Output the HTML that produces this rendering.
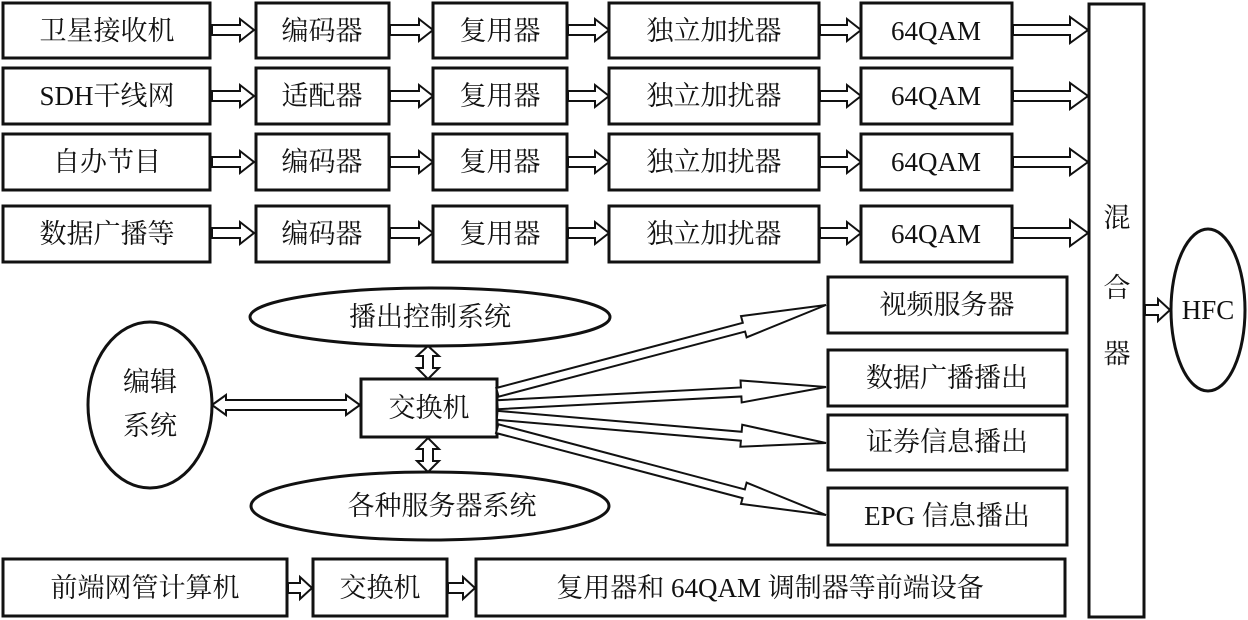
<!DOCTYPE html>
<html><head><meta charset="utf-8"><style>
html,body{margin:0;padding:0;background:#fff;}
svg{display:block;}
text{font-family:"Liberation Serif","Noto Serif CJK SC",serif;fill:#111;}
</style></head><body>
<svg width="1248" height="620" viewBox="0 0 1248 620" xmlns="http://www.w3.org/2000/svg">
<defs>
<polygon id="ha" points="0,-5 -14,-5 -14,-11 0,0 -14,11 -14,5 0,5" />
</defs>
<g fill="#fff" stroke="#111" stroke-width="3">
<!-- rows -->
<rect x="3" y="3" width="207" height="55"/><rect x="256" y="3" width="133" height="55"/><rect x="433" y="3" width="134" height="55"/><rect x="609" y="3" width="210" height="55"/><rect x="861" y="3" width="151" height="55"/>
<rect x="3" y="68" width="207" height="56"/><rect x="256" y="68" width="133" height="56"/><rect x="433" y="68" width="134" height="56"/><rect x="609" y="68" width="210" height="56"/><rect x="861" y="68" width="151" height="56"/>
<rect x="3" y="134" width="207" height="56"/><rect x="256" y="134" width="133" height="56"/><rect x="433" y="134" width="134" height="56"/><rect x="609" y="134" width="210" height="56"/><rect x="861" y="134" width="151" height="56"/>
<rect x="3" y="206" width="207" height="56"/><rect x="256" y="206" width="133" height="56"/><rect x="433" y="206" width="134" height="56"/><rect x="609" y="206" width="210" height="56"/><rect x="861" y="206" width="151" height="56"/>
<rect x="1089" y="4" width="55" height="613"/>
<ellipse cx="1208" cy="310" rx="37" ry="81"/>
<rect x="828" y="277" width="239" height="56"/>
<rect x="828" y="350" width="239" height="56"/>
<rect x="828" y="415" width="239" height="55"/>
<rect x="828" y="488" width="239" height="57"/>
<ellipse cx="430" cy="317" rx="180" ry="29"/>
<ellipse cx="150" cy="405" rx="62" ry="83"/>
<rect x="361" y="379" width="136" height="58"/>
<ellipse cx="430" cy="506" rx="179" ry="34"/>
<rect x="3" y="559" width="284" height="57"/>
<rect x="313" y="559" width="134" height="57"/>
<rect x="476" y="559" width="589" height="57"/>
</g>
<g fill="#fff" stroke="#111" stroke-width="2">
<!-- row arrows: x0 to x1 -->
<g id="r1">
<polygon points="212,25 240,25 240,19 254,30 240,41 240,35 212,35"/>
<polygon points="390,25 419,25 419,19 433,30 419,41 419,35 390,35"/>
<polygon points="568,25 595,25 595,19 609,30 595,41 595,35 568,35"/>
<polygon points="820,25 847,25 847,19 861,30 847,41 847,35 820,35"/>
<polygon points="1013,25 1070,25 1070,17 1088,30 1070,43 1070,35 1013,35"/>
</g>
<use href="#r1" y="66"/>
<use href="#r1" y="132"/>
<use href="#r1" y="203"/>
<polygon points="1145,305 1158,305 1158,299 1170,310 1158,321 1158,315 1145,315"/>
<!-- vertical double arrows -->
<polygon points="423,356 423,368 417,368 428,379 439,368 433,368 433,356 439,356 428,346 417,356"/>
<polygon points="423,449 423,461 417,461 428,472 439,461 433,461 433,449 439,449 428,438 417,449"/>
<!-- editing double arrow -->
<polygon points="212,405 226,395 226,400 346,400 346,395 360,405 346,415 346,410 226,410 226,415"/>
<!-- fan arrows -->
<g transform="translate(826,305) rotate(-14.8)"><polygon points="0,0 -85,-11 -85,-4 -340,-4 -340,5 -85,5 -85,11"/></g>
<g transform="translate(826,387) rotate(-3)"><polygon points="0,0 -85,-11 -85,-4 -329,-4 -329,5 -85,5 -85,11"/></g>
<g transform="translate(826,443) rotate(4.9)"><polygon points="0,0 -85,-11 -85,-4 -330,-4 -330,5 -85,5 -85,11"/></g>
<g transform="translate(826,515) rotate(14.8)"><polygon points="0,0 -85,-11 -85,-4 -340,-4 -340,5 -85,5 -85,11"/></g>
<!-- bottom arrows -->
<polygon points="288,583 300,583 300,577 312,588 300,599 300,593 288,593"/>
<polygon points="448,583 463,583 463,577 475,588 463,599 463,593 448,593"/>
</g>
<g font-size="27" text-anchor="middle" dominant-baseline="central">
<text x="107" y="31">卫星接收机</text><text x="322" y="31">编码器</text><text x="500" y="31">复用器</text><text x="714" y="31">独立加扰器</text><text x="936" y="31">64QAM</text>
<text x="107" y="96">SDH干线网</text><text x="322" y="96">适配器</text><text x="500" y="96">复用器</text><text x="714" y="96">独立加扰器</text><text x="936" y="96">64QAM</text>
<text x="107" y="162">自办节目</text><text x="322" y="162">编码器</text><text x="500" y="162">复用器</text><text x="714" y="162">独立加扰器</text><text x="936" y="162">64QAM</text>
<text x="107" y="234">数据广播等</text><text x="322" y="234">编码器</text><text x="500" y="234">复用器</text><text x="714" y="234">独立加扰器</text><text x="936" y="234">64QAM</text>
<text x="1117" y="218">混</text><text x="1117" y="288">合</text><text x="1117" y="354">器</text>
<text x="1208" y="310">HFC</text>
<text x="947" y="305">视频服务器</text>
<text x="947" y="378">数据广播播出</text>
<text x="947" y="442">证券信息播出</text>
<text x="947" y="516">EPG 信息播出</text>
<text x="430" y="317">播出控制系统</text>
<text x="150" y="382">编辑</text><text x="150" y="426">系统</text>
<text x="429" y="408">交换机</text>
<text x="442" y="506">各种服务器系统</text>
<text x="145" y="588">前端网管计算机</text>
<text x="380" y="588">交换机</text>
<text x="770" y="588">复用器和 64QAM 调制器等前端设备</text>
</g>
</svg>
</body></html>
